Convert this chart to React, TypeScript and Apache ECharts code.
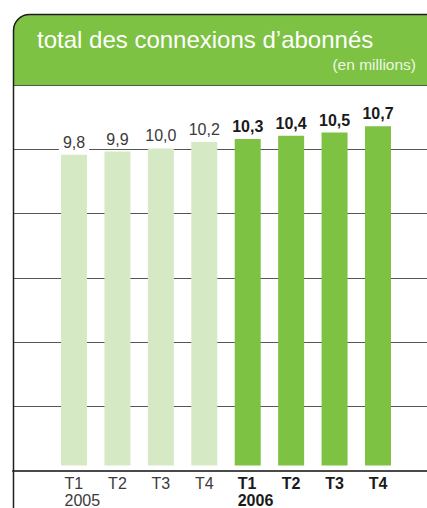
import React, { useEffect, useRef } from "react";
import * as echarts from "echarts";

const quarters = ["T1", "T2", "T3", "T4", "T1", "T2", "T3", "T4"];
const years = ["2005", "2005", "2005", "2005", "2006", "2006", "2006", "2006"];
const values = [9.8, 9.9, 10.0, 10.2, 10.3, 10.4, 10.5, 10.7];
const yTicks = [0, 2, 4, 6, 8, 10, 12];
const title = "total des connexions d’abonnés";
const subtitle = "(en millions)";

const GREEN = "#7dc242";
const LIGHT = "#d5e9c4";
const FONT = "'Liberation Sans', Arial, Helvetica, sans-serif";

export default function App() {
  const ref = useRef<HTMLDivElement>(null);
  useEffect(() => {
    if (!ref.current) return;
    const chart = echarts.init(ref.current, null, { renderer: "svg" });
    const categories = quarters.map((q, i) => `${q}|${years[i]}`);
    const yMin = yTicks[0];
    const yMax = yTicks[yTicks.length - 1];
    const yInterval = yTicks[1] - yTicks[0];
    const data = values.map((v, i) => {
      const hi = years[i] === "2006";
      return {
        value: v,
        itemStyle: { color: hi ? GREEN : LIGHT },
        label: {
          show: true,
          position: "top",
          distance: 4,
          formatter: (p: any) => String(p.value.toFixed(1)).replace(".", ","),
          fontFamily: FONT,
          fontSize: hi ? 16 : 16,
          fontWeight: hi ? "bold" : "normal",
          color: hi ? "#1a1a1a" : "#3a3a3a",
          backgroundColor: "#ffffff",
          padding: [1, 4, 0, 4],
          lineHeight: 17,
        },
      };
    });
    chart.setOption({
      animation: false,
      grid: [
        { left: 13, right: 0, top: 85, bottom: 37 },
        { left: 52.3, width: 347.4, top: 85, bottom: 37 },
      ],
      xAxis: [
        {
          type: "value",
          gridIndex: 0,
          min: 0,
          max: 1,
          axisLine: { show: true, onZero: true, lineStyle: { color: "#4a4a4a", width: 2 } },
          axisTick: { show: false },
          axisLabel: { show: false },
          splitLine: { show: false },
        },
        {
          type: "category",
          gridIndex: 1,
          data: categories,
          axisLine: { show: false },
          axisTick: { show: false },
          axisLabel: {
            margin: 9,
            interval: 0,
            formatter: (val: string, idx: number) => {
              const [q, y] = val.split("|");
              const hi = y === "2006";
              const showYear = idx === 0 || years[idx - 1] !== y;
              const s = hi ? "b" : "n";
              return showYear ? `{${s}|${q}}\n{${s}y|${y}}` : `{${s}|${q}}`;
            },
            verticalAlign: "top",
            rich: {
              n: { fontFamily: FONT, fontSize: 16, color: "#3a3a3a", lineHeight: 17, align: "left" },
              b: { fontFamily: FONT, fontSize: 16, fontWeight: "bold", color: "#1a1a1a", lineHeight: 17, align: "left" },
              ny: { fontFamily: FONT, fontSize: 16, color: "#3a3a3a", lineHeight: 17, width: 19, align: "left" },
              by: { fontFamily: FONT, fontSize: 16, fontWeight: "bold", color: "#1a1a1a", lineHeight: 17, width: 20, align: "left" },
            },
          },
        },
      ],
      yAxis: [
        {
          type: "value",
          gridIndex: 0,
          min: yMin,
          max: yMax,
          interval: yInterval,
          axisLine: { show: false },
          axisTick: { show: false },
          axisLabel: { show: false },
          splitLine: { show: true, lineStyle: { color: "#555555", width: 1 } },
        },
        {
          type: "value",
          gridIndex: 1,
          min: yMin,
          max: yMax,
          interval: yInterval,
          show: false,
        },
      ],
      series: [
        {
          type: "bar",
          xAxisIndex: 1,
          yAxisIndex: 1,
          barWidth: 26,
          data,
          z: 3,
        },
      ],
      graphic: [
        {
          type: "rect",
          z: 100,
          shape: { x: 13, y: 14, width: 430, height: 71, r: [16, 0, 0, 0] },
          style: { fill: GREEN },
        },
        {
          type: "rect",
          z: 101,
          shape: { x: 13.5, y: 14.5, width: 440, height: 540, r: 16 },
          style: { fill: "none", stroke: "#1e1e1e", lineWidth: 1.5 },
        },
        {
          type: "text",
          z: 102,
          style: {
            text: title,
            x: 37,
            y: 39,
            fill: "#ffffff",
            font: `24px ${FONT}`,
            textAlign: "left",
            textVerticalAlign: "middle",
          },
        },
        {
          type: "text",
          z: 102,
          style: {
            text: subtitle,
            x: 416,
            y: 64,
            fill: "#eef7e6",
            font: `15.5px ${FONT}`,
            textAlign: "right",
            textVerticalAlign: "middle",
          },
        },
      ],
    });
    return () => chart.dispose();
  }, []);
  return (
    <div
      ref={ref}
      style={{ position: "fixed", left: 0, top: 0, width: 427, height: 508, background: "#fff" }}
    />
  );
}
